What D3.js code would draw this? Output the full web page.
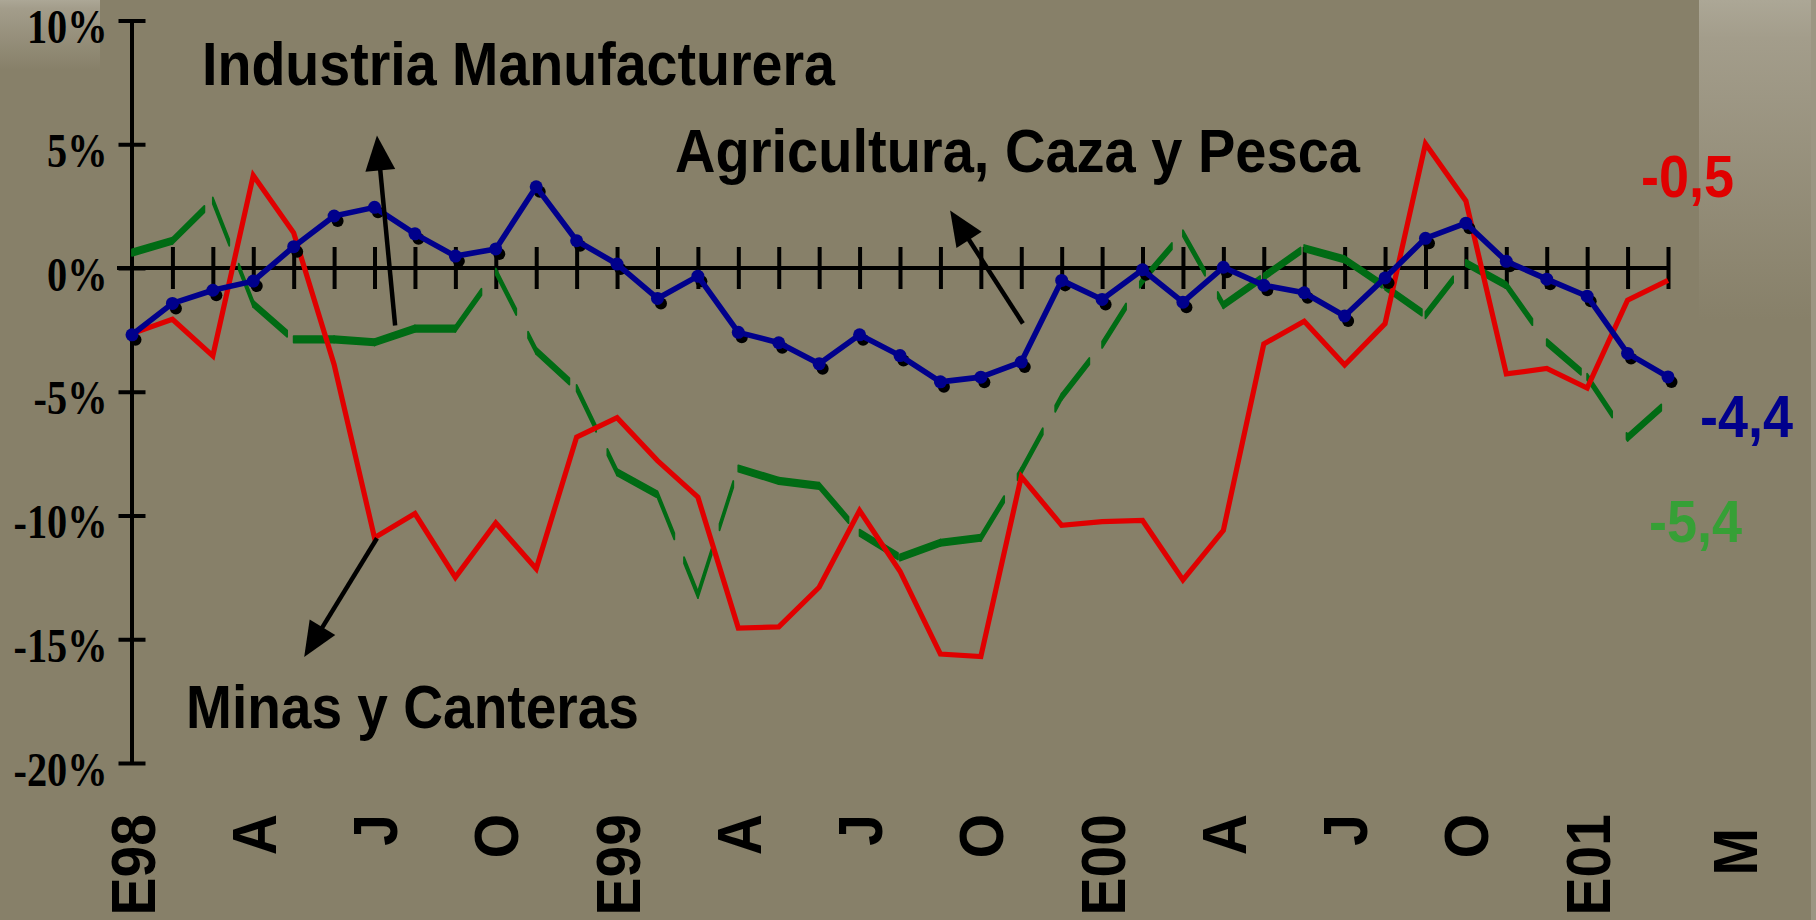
<!DOCTYPE html>
<html>
<head>
<meta charset="utf-8">
<script src="https://cdn.jsdelivr.net/npm/d3@7"></script>
<style>
  body { margin: 0; background: #878069; }
  svg { display: block; }
</style>
</head>
<body>
<svg id="chart" width="1816" height="920"></svg>
<script>
// months Jan 1998 .. Mar 2001
const months = ["E98","F","M","A","M","J","J","A","S","O","N","D",
                "E99","F","M","A","M","J","J","A","S","O","N","D",
                "E00","F","M","A","M","J","J","A","S","O","N","D",
                "E01","F","M"];

// Agricultura, Caza y Pesca (blue, markers)
const agricultura = [-2.7,-1.43,-0.9,-0.53,0.86,2.1,2.45,1.38,0.48,0.77,3.28,1.1,
                     0.16,-1.23,-0.33,-2.6,-3.02,-3.87,-2.7,-3.54,-4.6,-4.41,-3.8,-0.5,
                     -1.27,-0.07,-1.38,0.03,-0.7,-1.0,-1.94,-0.4,1.2,1.81,0.27,-0.45,
                     -1.14,-3.45,-4.4];
// Minas y Canteras (red)
const minas = [-2.65,-2.07,-3.55,3.74,1.42,-3.9,-10.9,-9.92,-12.5,-10.3,-12.15,-6.83,
               -6.05,-7.78,-9.26,-14.55,-14.5,-12.9,-9.8,-12.25,-15.6,-15.7,-8.43,-10.4,
               -10.25,-10.2,-12.6,-10.6,-3.07,-2.15,-3.92,-2.25,5.02,2.71,-4.28,-4.06,
               -4.85,-1.3,-0.5];
// Industria Manufacturera (green, dashed)
const industria = [0.62,1.1,2.72,-1.45,-2.88,-2.88,-3.0,-2.45,-2.45,-0.15,-3.35,-4.85,
                   -8.25,-9.15,-13.2,-8.1,-8.6,-8.8,-10.7,-11.7,-11.1,-10.9,-8.2,-5.2,
                   -3.1,-0.5,1.4,-1.5,-0.35,0.8,0.35,-0.75,-1.9,0.2,-0.7,-3.0,
                   -4.4,-6.85,-5.4];

const yTicks = [10, 5, 0, -5, -10, -15, -20];
const xTickLabels = ["E98","A","J","O","E99","A","J","O","E00","A","J","O","E01","M"];
const xTickAt = [0, 3, 6, 9, 12, 15, 18, 21, 24, 27, 30, 33, 36, 39.65];

const svg = d3.select("#chart");
const W = 1816, H = 920;
const sans = "'Liberation Sans', Arial, sans-serif";
const serif = "'Liberation Serif', 'Times New Roman', serif";

const x = d3.scaleLinear().domain([0, months.length - 1]).range([132, 1668]);
const y = d3.scaleLinear().domain([-20, 10]).range([763, 20.5]);

// background (slide + plot panel)
const defs = svg.append("defs");
const fade = defs.append("linearGradient").attr("id", "fade")
    .attr("x1", 0).attr("y1", 0).attr("x2", 0).attr("y2", 1);
fade.append("stop").attr("offset", "0").attr("stop-color", "#aca796");
fade.append("stop").attr("offset", "0.12").attr("stop-color", "#a39d8b");
fade.append("stop").attr("offset", "1").attr("stop-color", "#878069");

svg.append("rect").attr("width", W).attr("height", H).attr("fill", "#878069");
svg.append("rect").attr("x", 0).attr("y", 0).attr("width", 100).attr("height", 70).attr("fill", "url(#fade)");
svg.append("rect").attr("x", 1699).attr("y", 0).attr("width", 112).attr("height", 320).attr("fill", "url(#fade)");
svg.append("rect").attr("x", 1811).attr("y", 0).attr("width", 5).attr("height", H).attr("fill", "#9c9683");

// y axis with crossing ticks
const yAxis = svg.append("g")
    .attr("transform", `translate(${x(0) - 0.5},0)`)
    .call(d3.axisLeft(y).tickValues(yTicks).tickSize(13).tickSizeOuter(0)
          .tickFormat(d => d + "%"));
yAxis.select(".domain").attr("stroke", "#000").attr("stroke-width", 4);
yAxis.selectAll(".tick line").attr("x1", 14).attr("x2", -13)
    .attr("stroke", "#000").attr("stroke-width", 4);
yAxis.selectAll(".tick text")
    .attr("x", null).attr("dy", null)
    .attr("transform", "translate(-24,22) scale(0.84,1)")
    .attr("fill", "#000")
    .style("font-family", serif).style("font-weight", "bold").style("font-size", "48px");

// x axis at 0% with crossing ticks
const xAxis = svg.append("g")
    .attr("transform", `translate(0,${y(0)})`)
    .call(d3.axisBottom(x).tickValues(d3.range(1, months.length)).tickSize(21)
          .tickSizeOuter(0).tickFormat(""));
xAxis.select(".domain").remove();
xAxis.append("line")
    .attr("x1", x.range()[0] - 15).attr("x2", x.range()[1])
    .attr("stroke", "#000").attr("stroke-width", 4);
xAxis.selectAll(".tick line").attr("y1", -21).attr("y2", 21)
    .attr("stroke", "#000").attr("stroke-width", 4);

// month labels, rotated
svg.append("g").selectAll("text")
  .data(xTickLabels)
  .join("text")
    .attr("transform", (d, i) => `translate(${x(xTickAt[i])},${i === xTickLabels.length - 1 ? 828 : 814}) rotate(-90) scale(1,1.1)`)
    .attr("dy", "0.36em")
    .attr("text-anchor", "end")
    .style("font-family", sans).style("font-weight", "bold").style("font-size", "57px")
    .attr("fill", "#000")
    .text(d => d);

// green dashed line: pattern restarts at every segment, constant vertical thickness
const dashOn = 45, dashOff = 26, half = 3.2;
const greenDashes = [];
industria.slice(1).forEach((v, k) => {
  const x0 = x(k), y0 = y(industria[k]), x1 = x(k + 1), y1 = y(v);
  const len = Math.hypot(x1 - x0, y1 - y0);
  for (let s = 0; s < len; s += dashOn + dashOff) {
    const e = Math.min(s + dashOn, len);
    greenDashes.push([
      [x0 + (x1 - x0) * s / len, y0 + (y1 - y0) * s / len],
      [x0 + (x1 - x0) * e / len, y0 + (y1 - y0) * e / len]
    ]);
  }
});
svg.append("g").selectAll("path")
  .data(greenDashes)
  .join("path")
    .attr("d", ([a, b]) => `M${a[0]},${a[1] - half}L${b[0]},${b[1] - half}L${b[0]},${b[1] + half}L${a[0]},${a[1] + half}Z`)
    .attr("fill", "#006b14")
    .attr("stroke", "#006b14")
    .attr("stroke-width", 1.8)
    .attr("stroke-linejoin", "round");

const line = d3.line().x((d, i) => x(i)).y(d => y(d));

// red line
svg.append("path")
    .datum(minas)
    .attr("d", line)
    .attr("fill", "none")
    .attr("stroke", "#e00000")
    .attr("stroke-width", 5.2)
    .attr("stroke-linejoin", "miter");

// blue line with shadowed markers
svg.append("g").selectAll("circle")
  .data(agricultura)
  .join("circle")
    .attr("cx", (d, i) => x(i) + 3.5)
    .attr("cy", d => y(d) + 5)
    .attr("r", 6)
    .attr("fill", "#000");
svg.append("path")
    .datum(agricultura)
    .attr("d", line)
    .attr("fill", "none")
    .attr("stroke", "#00008c")
    .attr("stroke-width", 5.6)
    .attr("stroke-linejoin", "round");
svg.append("g").selectAll("circle")
  .data(agricultura)
  .join("circle")
    .attr("cx", (d, i) => x(i))
    .attr("cy", d => y(d))
    .attr("r", 6.5)
    .attr("fill", "#00008c");

// arrows (data units: month index, %)
const arrows = [
  { from: [6.51, -2.32], to: [6.06, 5.35] },
  { from: [22.04, -2.24], to: [20.24, 2.32] },
  { from: [6.06, -10.92], to: [4.26, -15.72] }
];
const headLen = 35, headHalf = 15;
arrows.forEach(a => {
  const tx = x(a.from[0]), ty = y(a.from[1]);
  const hx = x(a.to[0]), hy = y(a.to[1]);
  const len = Math.hypot(hx - tx, hy - ty);
  const ux = (hx - tx) / len, uy = (hy - ty) / len;
  const bx = hx - ux * headLen, by = hy - uy * headLen;
  svg.append("line")
      .attr("x1", tx).attr("y1", ty).attr("x2", bx + ux * 2).attr("y2", by + uy * 2)
      .attr("stroke", "#000").attr("stroke-width", 4.5);
  svg.append("path")
      .attr("d", `M${hx},${hy}L${bx - uy * headHalf},${by + ux * headHalf}L${bx + uy * headHalf},${by - ux * headHalf}Z`)
      .attr("fill", "#000");
});

// series names
const names = [
  { text: "Industria Manufacturera", x: 202, y: 85, len: 633 },
  { text: "Agricultura, Caza y Pesca", x: 675, y: 172, len: 685 },
  { text: "Minas y Canteras", x: 186, y: 728, len: 453 }
];
svg.append("g").selectAll("text")
  .data(names)
  .join("text")
    .attr("x", d => d.x).attr("y", d => d.y)
    .attr("textLength", d => d.len).attr("lengthAdjust", "spacingAndGlyphs")
    .style("font-family", sans).style("font-weight", "bold").style("font-size", "61px")
    .attr("fill", "#000")
    .text(d => d.text);

// last values
const fmt = v => d3.format(".1f")(v).replace("\u2212", "-").replace(".", ",");
const lastLabels = [
  { v: minas[minas.length - 1], color: "#e00000", x: 1641, y: 197 },
  { v: agricultura[agricultura.length - 1], color: "#00008c", x: 1700, y: 437 },
  { v: industria[industria.length - 1], color: "#36a036", x: 1649, y: 542 }
];
svg.append("g").selectAll("text")
  .data(lastLabels)
  .join("text")
    .attr("x", d => d.x).attr("y", d => d.y)
    .attr("textLength", 93).attr("lengthAdjust", "spacingAndGlyphs")
    .style("font-family", sans).style("font-weight", "bold").style("font-size", "60px")
    .attr("fill", d => d.color)
    .text(d => fmt(d.v));
</script>
</body>
</html>
